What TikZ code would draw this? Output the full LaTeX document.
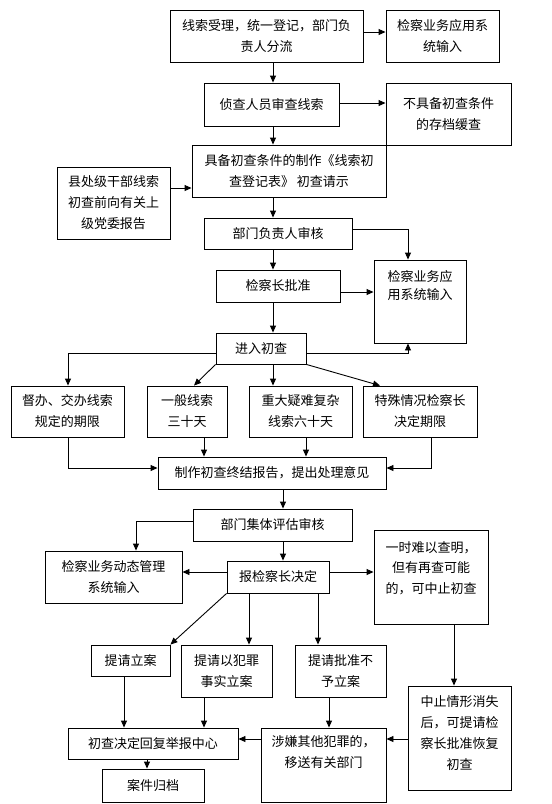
\documentclass[tikz,border=0pt]{standalone}
\usepackage{fontspec}
\setmainfont{Noto Sans CJK SC}
\usetikzlibrary{arrows.meta}
\begin{document}
\begin{tikzpicture}[x=1pt,y=-1pt,
  box/.style={draw, line width=0.9pt, inner sep=0pt, align=center, font=\fontsize{13}{21}\selectfont},
  sz/.style 2 args={minimum width=#1pt, minimum height=#2pt},
  txt/.style={inner sep=0pt, align=center, font=\fontsize{13}{21}\selectfont},
  arr/.style={line width=0.9pt, -{Triangle[length=7pt,width=6pt]}}]
\useasboundingbox (0,0) rectangle (552,804);
\fill[white] (0,0) rectangle (552,804);
% boxes
\node[box, sz={193}{52}] (A) at (266.5,36) {线索受理，统一登记，部门负\\责人分流};
\node[box, sz={113}{52}] (B) at (442.5,36) {检察业务应用系\\统输入};
\node[box, sz={135}{43}] (C) at (271.5,104.5) {侦查人员审查线索};
\node[box, sz={125}{62}] (D) at (448.5,114) {不具备初查条件\\的存档缓查};
\node[box, sz={194}{52}] (E) at (289,171) {具备初查条件的制作《线索初\\查登记表》 初查请示};
\node[box, sz={113}{72}] (F) at (113.5,203) {县处级干部线索\\初查前向有关上\\级党委报告};
\node[box, sz={148}{31}] (G) at (278,233.5) {部门负责人审核};
\node[box, sz={124}{32}] (H) at (278,286) {检察长批准};
\node[box, sz={92}{83}] (I) at (420,301.5) {};
\node[txt, anchor=north, font=\fontsize{13}{18}\selectfont] (It) at ([yshift=-10.5pt]I.north) {检察业务应\\用系统输入};
\node[box, sz={90}{31}] (J) at (261,348.5) {进入初查};
\node[box, sz={113}{51}] (K) at (67.5,411.5) {督办、交办线索\\规定的期限};
\node[box, sz={80}{51}] (L) at (187,411.5) {一般线索\\三十天};
\node[box, sz={103}{51}] (M) at (300.5,411.5) {重大疑难复杂\\线索六十天};
\node[box, sz={114}{51}] (N) at (420,411.5) {特殊情况检察长\\决定期限};
\node[box, sz={228}{32}] (O) at (272,473) {制作初查终结报告，提出处理意见};
\node[box, sz={159}{32}] (P) at (272.5,525) {部门集体评估审核};
\node[box, sz={137}{52}] (Q) at (113.5,577) {检察业务动态管理\\系统输入};
\node[box, sz={102}{32}] (R) at (278,577) {报检察长决定};
\node[box, sz={114}{94}] (S) at (431,577) {};
\node[txt, anchor=north, font=\fontsize{13}{20.5}\selectfont] (St) at ([yshift=-11.5pt]S.north) {一时难以查明，\\但有再查可能\\的，可中止初查};
\node[box, sz={79}{31}] (T) at (130.5,660.5) {提请立案};
\node[box, sz={91}{52}] (U) at (226.5,671) {提请以犯罪\\事实立案};
\node[box, sz={91}{52}] (V) at (340.5,671) {提请批准不\\予立案};
\node[box, sz={103}{104}] (W) at (459.5,738) {};
\node[txt, anchor=north] (Wt) at ([yshift=-9.5pt]W.north) {中止情形消失\\后，可提请检\\察长批准恢复\\初查};
\node[box, sz={170}{31}] (X) at (153,743.5) {初查决定回复举报中心};
\node[box, sz={125}{74}] (Y) at (323.5,765) {};
\node[txt, anchor=north] (Yt) at ([yshift=-7.5pt]Y.north) {涉嫌其他犯罪的，\\移送有关部门};
\node[box, sz={102}{33}] (Z) at (153,785.5) {案件归档};
% helper columns and rows
\coordinate (mx) at (273,0);
\coordinate (ix) at (408,0);
\coordinate (lx) at (204,0);
\coordinate (msx) at (306,0);
\coordinate (nx) at (431,0);
\coordinate (ox) at (283,0);
\coordinate (qx) at (136,0);
\coordinate (ux) at (249,0);
\coordinate (vx) at (318,0);
\coordinate (sx) at (454,0);
\coordinate (tx) at (124,0);
\coordinate (xu) at (204,0);
\coordinate (yx) at (329,0);
\coordinate (zx) at (147,0);
\coordinate (kx) at (68,0);
\coordinate (r1) at (0,32);
\coordinate (r2) at (0,103);
\coordinate (r3) at (0,188);
\coordinate (r4) at (0,229);
\coordinate (r5) at (0,292);
\coordinate (r6) at (0,353);
\coordinate (r7) at (0,468);
\coordinate (r8) at (0,521);
\coordinate (r9) at (0,572);
\coordinate (r10) at (0,739);
% connectors
\draw[arr] (mx|-A.south) -- (mx|-C.north);
\draw[arr] (A.east|-r1) -- (B.west|-r1);
\draw[arr] (C.east|-r2) -- (D.west|-r2);
\draw[arr] (mx|-C.south) -- (mx|-E.north);
\draw[arr] (F.east|-r3) -- (E.west|-r3);
\draw[arr] (mx|-E.south) -- (mx|-G.north);
\draw[arr] (G.east|-r4) -- (ix|-r4) -- (ix|-I.north);
\draw[arr] (mx|-G.south) -- (mx|-H.north);
\draw[arr] (H.east|-r5) -- (I.west|-r5);
\draw[arr] (mx|-H.south) -- (mx|-J.north);
\draw[arr] (J.east|-r6) -- (ix|-r6) -- (ix|-I.south);
\draw[arr] (J.west|-r6) -- (kx|-r6) -- (kx|-K.north);
\draw[arr] (J.south west) -- ([xshift=7pt]L.north);
\draw[arr] (mx|-J.south) -- (mx|-M.north);
\draw[arr] (J.south east) -- ([xshift=-40pt]N.north);
\draw[arr] (kx|-K.south) -- (kx|-r7) -- (O.west|-r7);
\draw[arr] (lx|-L.south) -- (lx|-O.north);
\draw[arr] (msx|-M.south) -- (msx|-O.north);
\draw[arr] (nx|-N.south) -- (nx|-r7) -- (O.east|-r7);
\draw[arr] (ox|-O.south) -- (ox|-P.north);
\draw[arr] (P.west|-r8) -- (qx|-r8) -- (qx|-Q.north);
\draw[arr] (ox|-P.south) -- (ox|-R.north);
\draw[arr] (R.west|-r9) -- (Q.east|-r9);
\draw[arr] (R.east|-r9) -- (S.west|-r9);
\draw[arr] (R.south west) -- (T.north east);
\draw[arr] (ux|-R.south) -- (ux|-U.north);
\draw[arr] (vx|-R.south) -- (vx|-V.north);
\draw[arr] (sx|-S.south) -- (sx|-W.north);
\draw[arr] (tx|-T.south) -- (tx|-X.north);
\draw[arr] (xu|-U.south) -- (xu|-X.north);
\draw[arr] (yx|-V.south) -- (yx|-Y.north);
\draw[arr] (W.west|-r10) -- (Y.east|-r10);
\draw[arr] (Y.west|-r10) -- (X.east|-r10);
\draw[arr] (zx|-X.south) -- (zx|-Z.north);
\end{tikzpicture}
\end{document}
